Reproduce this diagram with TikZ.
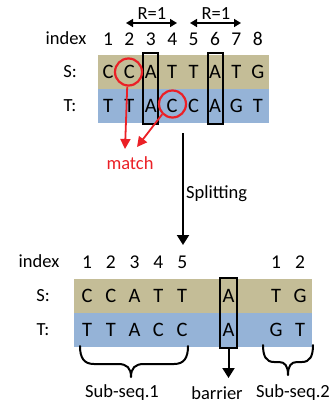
\documentclass[tikz,border=0pt]{standalone}
\usepackage{fontspec}
\setmainfont{Carlito}
\usetikzlibrary{arrows.meta}
\definecolor{tanband}{RGB}{196,189,151}
\definecolor{blueband}{RGB}{149,179,215}
\definecolor{matchred}{RGB}{235,32,38}
\begin{document}
\begin{tikzpicture}[x=1pt,y=-1pt,
  txt/.style={font=\fontsize{18.5}{20}\selectfont, inner sep=0pt},
  num/.style={font=\fontsize{19.5}{20}\selectfont, inner sep=0pt},
  seq/.style={font=\fontsize{20.5}{21}\selectfont, inner sep=0pt, text height=13pt, text depth=0pt},
  band/.style={inner sep=0pt, anchor=north west, minimum height=34pt},
  hbox/.style={draw=black, line width=2pt, inner sep=0pt, minimum width=15pt},
  ring/.style={circle, draw=matchred, line width=2.2pt, inner sep=0pt, minimum size=27pt},
  blackarrow/.style={line width=2pt, -{Triangle[length=10pt,width=12pt]}},
  redarrow/.style={draw=matchred, line width=1.8pt, -{Triangle[length=10pt,width=10pt]}},
  rarrow/.style={line width=1.6pt, {Triangle[length=7pt,width=8pt]}-{Triangle[length=7pt,width=8pt]}},
  brace/.style={line width=2pt, line cap=round, line join=round}]
\useasboundingbox (0,0) rectangle (331,407);

% ---------- original alignment ----------
\node[band, fill=tanband, minimum width=171pt] (sband) at (98,55) {};
\node[band, fill=blueband, minimum width=171pt] (tband) at (98,89) {};

\node[txt] (idx) at (66,38) {index};
\node[txt] (slab) at (70,72) {S:};
\node[txt] (tlab) at (70,106) {T:};

\foreach \i/\s/\t in {1/C/T,2/C/T,3/A/A,4/T/C,5/T/C,6/A/A,7/T/G,8/G/T}{
  \pgfmathsetmacro{\cx}{108+21.4*(\i-1)}
  \node[num] (n\i) at (\cx,39) {\i};
  \node[seq] (s\i) at (\cx,72) {\s};
  \node[seq] (t\i) at (\cx,106) {\t};
}

% barrier columns
\node[hbox, minimum height=71pt] (box3) at (150.5,88.5) {};
\node[hbox, minimum height=71pt] (box6) at (215.5,88.5) {};

% radius markers
\coordinate (ra1) at (126,23);
\coordinate (rb1) at (177,23);
\coordinate (ra2) at (190,23);
\coordinate (rb2) at (241,23);
\draw[rarrow] (ra1) -- (rb1);
\draw[rarrow] (ra2) -- (rb2);
\node[txt] (r1) at (152,14) {R=1};
\node[txt] (r2) at (216,14) {R=1};

% matches
\node[ring] (m1) at (128.5,72) {};
\node[ring] (m2) at (172.5,104) {};
\node[txt, text=matchred] (match) at (130,163) {match};
\coordinate (tip1) at (125,149);
\coordinate (tip2) at (137,147);
\draw[redarrow] (m1.265) -- (tip1);
\draw[redarrow] (m2.225) -- (tip2);

% splitting step
\coordinate (splittop) at (183,133);
\coordinate (splitend) at (183,245);
\draw[blackarrow] (splittop) -- (splitend);
\node[txt, anchor=west] (split) at (186,194) {Splitting};

% ---------- split alignment ----------
\node[band, fill=tanband, minimum width=238pt] (sband2) at (74,279) {};
\node[band, fill=blueband, minimum width=238pt] (tband2) at (74,313) {};

\node[txt] (idx2) at (39,261) {index};
\node[txt] (slab2) at (43,296) {S:};
\node[txt] (tlab2) at (43,330) {T:};

\foreach \i/\s/\t in {1/C/T,2/C/T,3/A/A,4/T/C,5/T/C}{
  \pgfmathsetmacro{\cx}{87+23.8*(\i-1)}
  \node[num] (p\i) at (\cx,262) {\i};
  \node[seq] (ps\i) at (\cx,296) {\s};
  \node[seq] (pt\i) at (\cx,330) {\t};
}
\foreach \i/\s/\t in {1/T/G,2/G/T}{
  \pgfmathsetmacro{\cx}{276+24*(\i-1)}
  \node[num] (q\i) at (\cx,262) {\i};
  \node[seq] (qs\i) at (\cx,296) {\s};
  \node[seq] (qt\i) at (\cx,330) {\t};
}
\node[seq] (bs) at (228.5,296) {A};
\node[seq] (bt) at (228.5,330) {A};
\node[hbox, minimum width=17pt, minimum height=70pt] (bbox) at (228.5,313) {};

% labels
\node[txt] (sub1) at (122,393) {Sub-seq.1};
\node[txt] (barr) at (217,393) {barrier};
\node[txt] (sub2) at (293,393) {Sub-seq.2};

\coordinate (btip) at (228.5,378);
\draw[blackarrow] (bbox.south) -- (btip);

% braces
\draw[brace] (80,346) .. controls (80,358) and (84,364) .. (94,364) -- (118,364)
  .. controls (127,364) and (131,368) .. (131,377)
  .. controls (131,368) and (135,364) .. (144,364) -- (174,364)
  .. controls (184,364) and (188,358) .. (188,346);
\draw[brace] (263,345) .. controls (263,356) and (266,362) .. (274,362) -- (279,362)
  .. controls (285,362) and (288,366) .. (288,375)
  .. controls (288,366) and (291,362) .. (297,362) -- (302,362)
  .. controls (310,362) and (313,356) .. (313,345);
\end{tikzpicture}
\end{document}
